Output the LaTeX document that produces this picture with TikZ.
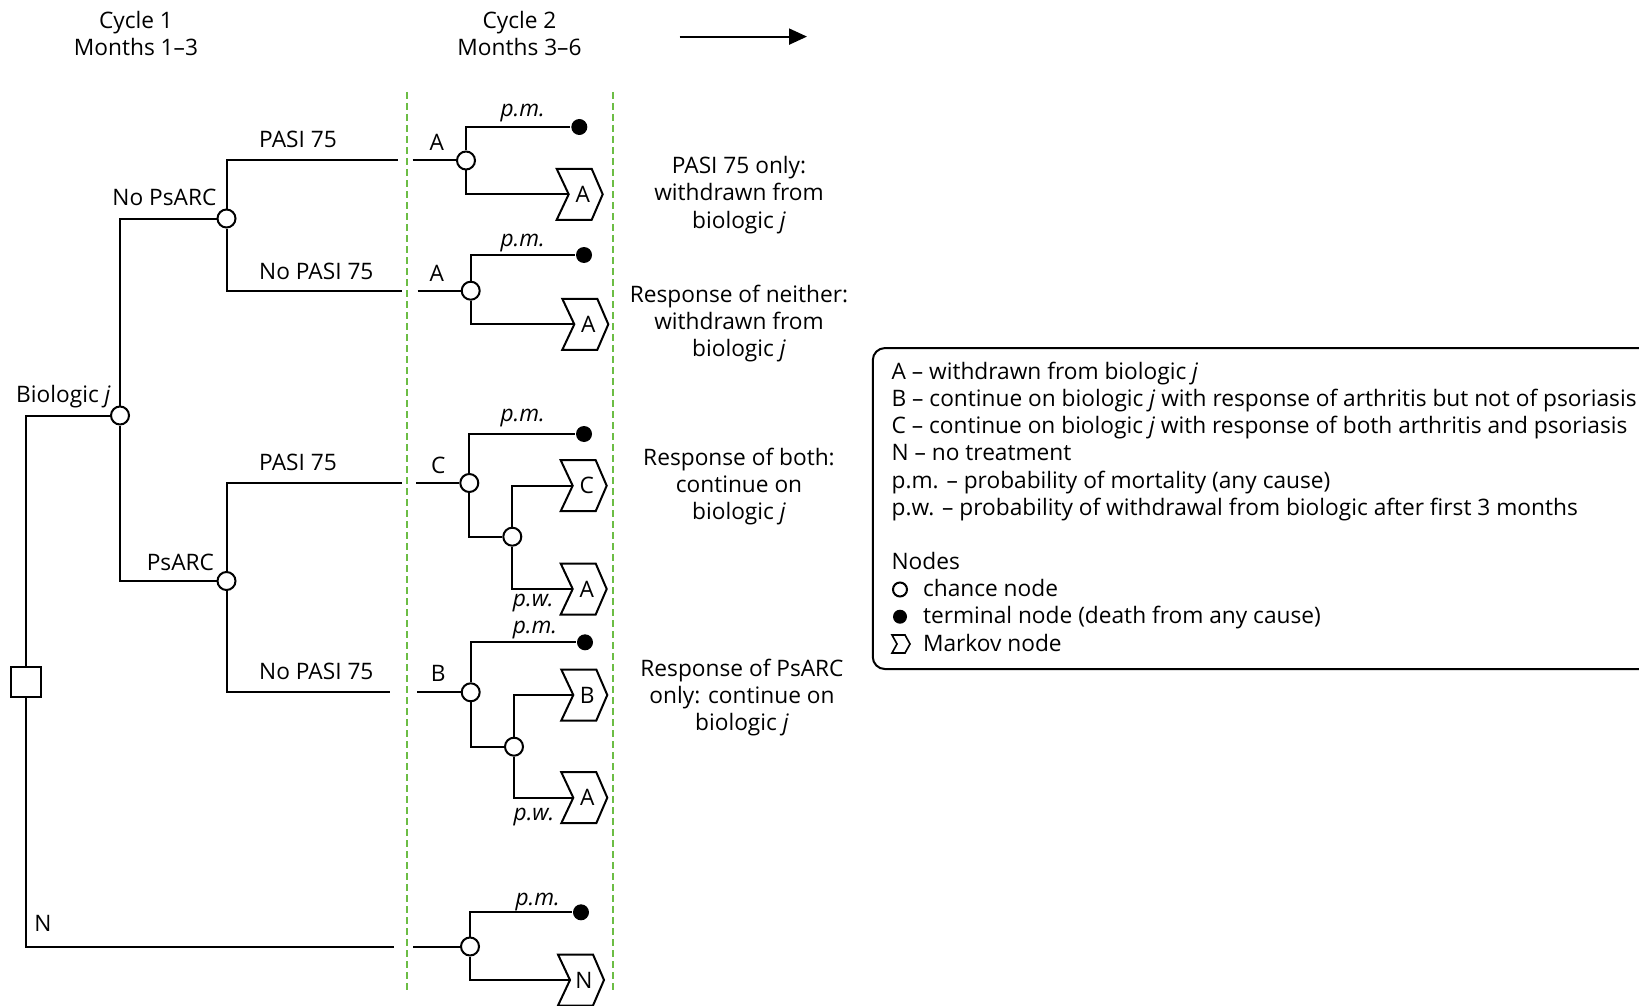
\documentclass[tikz,border=0pt]{standalone}
\usepackage{fontspec}
\setmainfont{Open Sans}
\usetikzlibrary{arrows.meta}
\definecolor{dgreen}{RGB}{108,189,69}
\newcommand\dfont{\fontsize{11.35}{13.6}\selectfont}
\tikzset{
  markov/.pic={
    \draw[fill=white, line width=1pt, line join=miter] (-12,-25.5) -- (23,-25.5) -- (34,0) -- (23,25.5) -- (-12,25.5) -- (0,0) -- cycle;
    \node at (14,0) {#1};
  },
  chance/.style={circle, draw, fill=white, minimum size=9pt, inner sep=0pt},
  term/.style={circle, fill=black, minimum size=8pt, inner sep=0pt},
  dec/.style={rectangle, draw, fill=white, minimum size=15pt, inner sep=0pt},
  prob/.style={font=\dfont\itshape, anchor=base},
  guide/.style={dgreen, dash pattern=on 3.5pt off 2pt, line width=0.9pt},
  txt/.style={anchor=base},
}
\begin{document}
\begin{tikzpicture}[x=0.5pt,y=-0.5pt, line width=1pt,
  every node/.style={font=\dfont, inner sep=0pt}]
\useasboundingbox (0,0) rectangle (1639,1006);
\clip (0,0) rectangle (1639,1006);

% header
\node[txt] (h1a) at (136,29) {Cycle 1};
\node[txt] (h1b) at (136,56) {Months 1--3};
\node[txt] (h2a) at (519.5,29) {Cycle 2};
\node[txt] (h2b) at (519.5,56) {Months 3--6};
\coordinate (ar1) at (679.5,36.6);
\coordinate (ar2) at (807,36.6);
\draw[-{Triangle[length=9pt,width=8pt]}] (ar1) -- (ar2);

% guides
\draw[guide] (406.7,92) -- (406.7,991);
\draw[guide] (613.3,92) -- (613.3,991);

% left tree
\node[dec] (D) at (26,681.5) {};
\node[chance] (Bj) at (120,415.5) {};
\node[chance] (NP) at (226.5,218.5) {};
\node[chance] (P) at (226.5,581) {};
\coordinate (e1) at (398.3,160.5);
\coordinate (e2) at (401.7,290.7);
\coordinate (e3) at (401.7,483);
\coordinate (e4) at (390,692.3);
\coordinate (e5) at (394,946.5);
\draw (D) |- (Bj);
\draw (D) |- (e5);
\draw (Bj) |- (NP);
\draw (Bj) |- (P);
\draw (NP) |- (e1);
\draw (NP) |- (e2);
\draw (P) |- (e3);
\draw (P) |- (e4);

\node[txt, anchor=base east] (lBj) at (111.7,402) {Biologic \textit{j}};
\node[txt, anchor=base east] (lNP) at (217.4,205.5) {No PsARC};
\node[txt, anchor=base east] (lP) at (215,570.3) {PsARC};
\node[txt, anchor=base west] (l1) at (258.2,148) {PASI 75};
\node[txt, anchor=base west] (l2) at (258.2,279.8) {No PASI 75};
\node[txt, anchor=base west] (l3) at (258.2,470) {PASI 75};
\node[txt, anchor=base west] (l4) at (258.2,679) {No PASI 75};
\node[txt] (lN) at (42.9,931) {N};

% group 1
\coordinate (s1) at (412.7,160.5);
\node[chance] (c1) at (466,160.5) {};
\node[term] (t1) at (579.3,127) {};
\coordinate (m1) at (568.7,194.3);
\draw (s1) -- (c1);
\draw (c1) |- (t1);
\draw (c1) |- (m1);
\pic at (m1) {markov=A};
\node[txt] (g1l) at (436.7,150.3) {A};
\node[prob] (g1p) at (522.7,116.7) {p.m.};

% group 2
\coordinate (s2) at (417.7,290.7);
\node[chance] (c2) at (470.7,290.7) {};
\node[term] (t2) at (584,255) {};
\coordinate (m2) at (574.3,324.3);
\draw (s2) -- (c2);
\draw (c2) |- (t2);
\draw (c2) |- (m2);
\pic at (m2) {markov=A};
\node[txt] (g2l) at (436.7,281.3) {A};
\node[prob] (g2p) at (522.7,246) {p.m.};

% group 3
\coordinate (s3) at (416,483);
\node[chance] (c3) at (469.3,483) {};
\node[term] (t3) at (584,434) {};
\node[chance] (c3b) at (512.3,536.7) {};
\coordinate (m3a) at (572.7,485.7);
\coordinate (m3b) at (572.7,589);
\draw (s3) -- (c3);
\draw (c3) |- (t3);
\draw (c3) |- (c3b);
\draw (c3b) |- (m3a);
\draw (c3b) |- (m3b);
\pic at (m3a) {markov=C};
\pic at (m3b) {markov=A};
\node[txt] (g3l) at (438.3,473) {C};
\node[prob] (g3p) at (522.7,421.7) {p.m.};
\node[prob] (g3w) at (533.3,606.7) {p.w.};

% group 4
\coordinate (s4) at (417.3,692.3);
\node[chance] (c4) at (470.7,692.3) {};
\node[term] (t4) at (585,642.3) {};
\node[chance] (c4b) at (514,746.7) {};
\coordinate (m4a) at (573.3,695);
\coordinate (m4b) at (573.3,797.7);
\draw (s4) -- (c4);
\draw (c4) |- (t4);
\draw (c4) |- (c4b);
\draw (c4b) |- (m4a);
\draw (c4b) |- (m4b);
\pic at (m4a) {markov=B};
\pic at (m4b) {markov=A};
\node[txt] (g4l) at (438.3,681) {B};
\node[prob] (g4p) at (535,633.3) {p.m.};
\node[prob] (g4w) at (534,820) {p.w.};

% group 5
\coordinate (s5) at (413.3,946.5);
\node[chance] (c5) at (470,946.5) {};
\node[term] (t5) at (581,912.3) {};
\coordinate (m5) at (570,980);
\draw (s5) -- (c5);
\draw (c5) |- (t5);
\draw (c5) |- (m5);
\pic at (m5) {markov=N};
\node[prob] (g5p) at (537.7,905) {p.m.};

% right annotations
\node[align=center] (r1) at (739,195) {PASI 75 only:\\withdrawn from\\biologic \textit{j}};
\node[align=center] (r2) at (739,323.5) {Response of neither:\\withdrawn from\\biologic \textit{j}};
\node[align=center] (r3) at (739,486.5) {Response of both:\\continue on\\biologic \textit{j}};
\node[align=center] (r4) at (742,697.7) {Response of PsARC\\only: continue on\\biologic \textit{j}};

% legend
\draw[rounded corners=6pt] (872.8,348.1) rectangle (1700,669);
\node[anchor=base west] (k1) at (890.6,379.3) {A -- withdrawn from biologic \textit{j}};
\node[anchor=base west] (k2) at (890.6,406.5) {B -- continue on biologic \textit{j} with response of arthritis but not of psoriasis};
\node[anchor=base west] (k3) at (890.6,433.7) {C -- continue on biologic \textit{j} with response of both arthritis and psoriasis};
\node[anchor=base west] (k4) at (890.6,460.9) {N -- no treatment};
\node[anchor=base west] (k5) at (890.6,488) {p.m. -- probability of mortality (any cause)};
\node[anchor=base west] (k6) at (890.6,515.2) {p.w. -- probability of withdrawal from biologic after first 3 months};
\node[anchor=base west] (k7) at (890.6,569.6) {Nodes};
\node[chance, minimum size=7pt] (kc) at (900,589.5) {};
\node[anchor=base west] (k8) at (922,596.7) {chance node};
\node[term, minimum size=7pt] (kt) at (900,616.7) {};
\node[anchor=base west] (k9) at (922,623.9) {terminal node (death from any cause)};
\draw[line width=0.8pt, line join=miter] (892,635) -- (905,635) -- (910,644) -- (905,653) -- (892,653) -- (897,644) -- cycle;
\node[anchor=base west] (k10) at (922,651.1) {Markov node};
\end{tikzpicture}
\end{document}
